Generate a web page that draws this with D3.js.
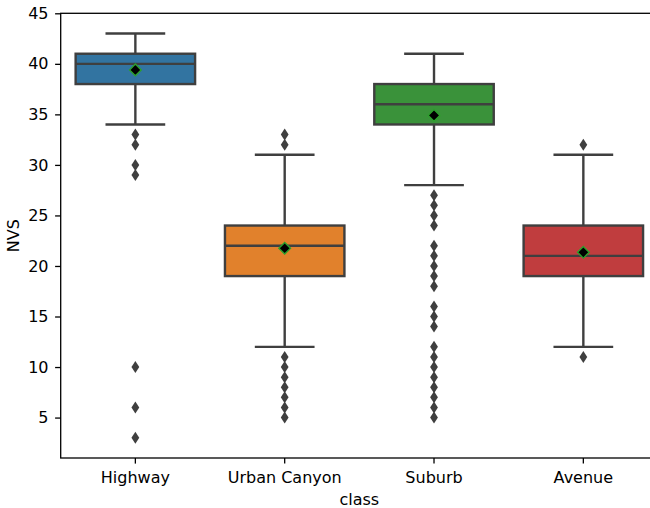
<!DOCTYPE html>
<html>
<head>
<meta charset="utf-8">
<script src="https://cdn.jsdelivr.net/npm/d3@7"></script>
<style>
  html, body { margin: 0; padding: 0; background: #fff; }
  svg { display: block; font-family: "DejaVu Sans", sans-serif; }
</style>
</head>
<body>
<svg id="chart" width="650" height="508"></svg>
<script>
const categories = ["Highway", "Urban Canyon", "Suburb", "Avenue"];
const colors = ["#3274a1", "#e1812c", "#3a923a", "#c03d3e"];
const q1 = [38, 19, 34, 19];
const medians = [40, 22, 36, 21];
const q3 = [41, 24, 38, 24];
const whiskerLow = [34, 12, 28, 12];
const whiskerHigh = [43, 31, 41, 31];
const means = [39.4, 21.75, 34.9, 21.35];
const outliersHighway = [33, 32, 30, 29, 10, 6, 3];
const outliersUrban = [33, 32, 11, 10, 9, 8, 7, 6, 5];
const outliersSuburb = [27, 26, 25, 24, 22, 21, 20, 19, 18, 16, 15, 14, 12, 11, 10, 9, 8, 7, 6, 5];
const outliersAvenue = [32, 11];
const outliers = [outliersHighway, outliersUrban, outliersSuburb, outliersAvenue];
const yTicks = [5, 10, 15, 20, 25, 30, 35, 40, 45];
const xLabel = "class";
const yLabel = "NVS";

const mLeft = 60.7, mRight = 658, mTop = 13.3, mBottom = 458;
const lineColor = "#3f3f3f";
const lw = 2.4;

const svg = d3.select("#chart");
const x = d3.scaleBand().domain(categories).range([mLeft, mRight]).paddingInner(0.2).paddingOuter(0.1);
const y = d3.scaleLinear().domain([1, 45]).range([mBottom, mTop]);

const bw = x.bandwidth();
const data = categories.map((c, i) => ({
  cat: c, color: colors[i], q1: q1[i], med: medians[i], q3: q3[i],
  lo: whiskerLow[i], hi: whiskerHigh[i], mean: means[i], out: outliers[i]
}));
const cx = d => x(d.cat) + bw / 2;

const g = svg.append("g");

// whiskers
g.selectAll(".wlo").data(data).join("line")
  .attr("x1", cx).attr("x2", cx)
  .attr("y1", d => y(d.q1)).attr("y2", d => y(d.lo))
  .attr("stroke", lineColor).attr("stroke-width", lw);
g.selectAll(".whi").data(data).join("line")
  .attr("x1", cx).attr("x2", cx)
  .attr("y1", d => y(d.q3)).attr("y2", d => y(d.hi))
  .attr("stroke", lineColor).attr("stroke-width", lw);
// caps
["lo", "hi"].forEach(k => {
  g.selectAll(".cap" + k).data(data).join("line")
    .attr("x1", d => cx(d) - bw / 4).attr("x2", d => cx(d) + bw / 4)
    .attr("y1", d => y(d[k])).attr("y2", d => y(d[k]))
    .attr("stroke", lineColor).attr("stroke-width", lw);
});
// boxes
g.selectAll(".box").data(data).join("rect")
  .attr("x", d => x(d.cat)).attr("width", bw)
  .attr("y", d => y(d.q3)).attr("height", d => y(d.q1) - y(d.q3))
  .attr("fill", d => d.color)
  .attr("stroke", lineColor).attr("stroke-width", lw);
// medians
g.selectAll(".med").data(data).join("line")
  .attr("x1", d => x(d.cat)).attr("x2", d => x(d.cat) + bw)
  .attr("y1", d => y(d.med)).attr("y2", d => y(d.med))
  .attr("stroke", lineColor).attr("stroke-width", lw);
// fliers
const fl = data.flatMap(d => d.out.map(v => ({ cat: d.cat, v })));
g.selectAll(".fl").data(fl).join("path")
  .attr("transform", d => `translate(${x(d.cat) + bw / 2},${y(d.v)})`)
  .attr("d", "M0,-6L3.9,0L0,6L-3.9,0Z")
  .attr("fill", lineColor);
// means
g.selectAll(".mean").data(data).join("path")
  .attr("transform", d => `translate(${cx(d)},${y(d.mean)})`)
  .attr("d", "M0,-5.8L5.8,0L0,5.8L-5.8,0Z")
  .attr("fill", "#000").attr("stroke", "#2ca02c").attr("stroke-width", 1.4);

// axes
const yAxis = svg.append("g").attr("transform", `translate(${mLeft},0)`)
  .call(d3.axisLeft(y).tickValues(yTicks).tickSize(5.6).tickPadding(6.6).tickSizeOuter(0));
const xAxis = svg.append("g").attr("transform", `translate(0,${mBottom})`)
  .call(d3.axisBottom(x).tickSize(5.6).tickPadding(8).tickSizeOuter(0));
[yAxis, xAxis].forEach(a => {
  a.select(".domain").remove();
  a.selectAll("line").attr("stroke", "#000").attr("stroke-width", 1.3);
  a.selectAll("text").attr("font-size", 16).attr("fill", "#000").attr("font-family", "DejaVu Sans");
});

// spines
svg.append("rect").attr("x", mLeft).attr("y", mTop)
  .attr("width", mRight - mLeft).attr("height", mBottom - mTop)
  .attr("fill", "none").attr("stroke", "#000").attr("stroke-width", 1.3);

svg.append("text").attr("x", (mLeft + mRight) / 2).attr("y", 505)
  .attr("text-anchor", "middle").attr("font-size", 16).attr("fill", "#000").text(xLabel);
svg.append("text").attr("transform", `translate(19,${(mTop + mBottom) / 2}) rotate(-90)`)
  .attr("text-anchor", "middle").attr("font-size", 16).attr("fill", "#000").text(yLabel);
</script>
</body>
</html>
